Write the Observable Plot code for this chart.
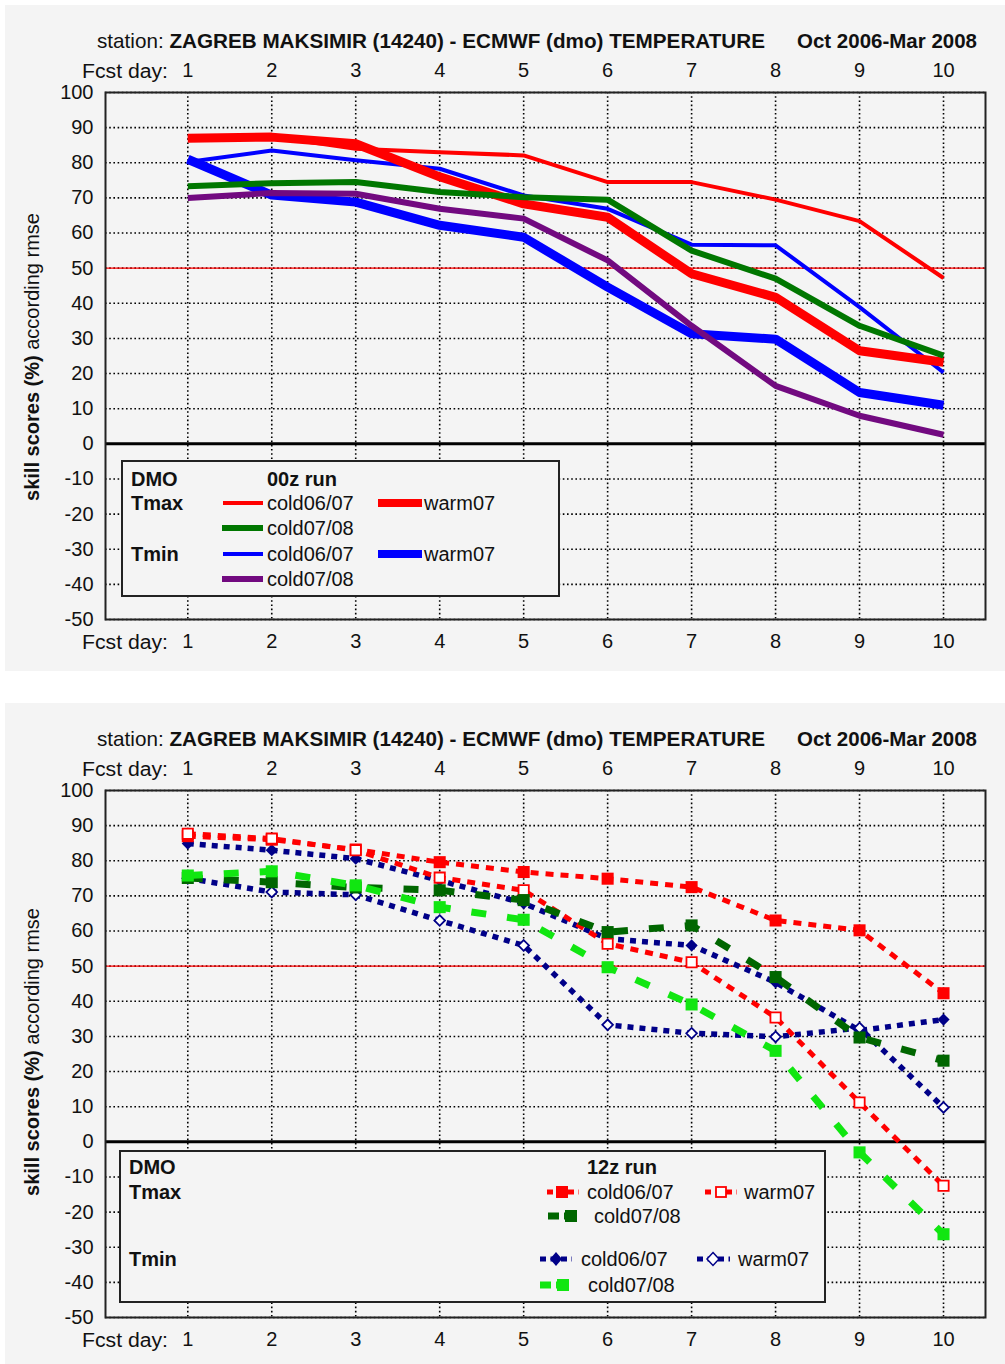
<!DOCTYPE html>
<html>
<head>
<meta charset="utf-8">
<script src="https://cdn.jsdelivr.net/npm/d3@7"></script>
<script src="https://cdn.jsdelivr.net/npm/@observablehq/plot@0.6"></script>
<style>
  body { margin:0; background:#fff; width:1005px; height:1364px; position:relative; overflow:hidden;
         font-family:"Liberation Sans",Arial,sans-serif; color:#111; }
  .panel { position:absolute; left:5px; width:1000px; background:#f4f4f4; }
  .abs { position:absolute; white-space:nowrap; }
  .ylab { font-size:20px; line-height:24px; width:320px; text-align:center; transform:rotate(-90deg); }
  svg text { font-family:"Liberation Sans",Arial,sans-serif; }
</style>
</head>
<body>
<div class="panel" style="top:5px;height:666px"></div>
<div class="panel" style="top:703px;height:661px"></div>
<div id="chart1" class="abs" style="left:0;top:0"></div>
<div id="chart2" class="abs" style="left:0;top:702px"></div>

<svg class="abs" style="left:0;top:0" width="1005" height="672">
  <g fill="#111" font-size="21">
    <text x="97" y="48" textLength="668" lengthAdjust="spacingAndGlyphs">station: <tspan font-weight="bold">ZAGREB MAKSIMIR (14240) - ECMWF (dmo) TEMPERATURE</tspan></text>
    <text x="797" y="48" textLength="180" lengthAdjust="spacingAndGlyphs" font-weight="bold">Oct 2006-Mar 2008</text>
    <text x="82" y="78" textLength="86" lengthAdjust="spacingAndGlyphs" font-size="20">Fcst day:</text>
    <text x="82" y="649" textLength="86" lengthAdjust="spacingAndGlyphs" font-size="20">Fcst day:</text>
  </g>
</svg>
<div class="abs ylab" style="left:-128px;top:345px"><b>skill scores (%)</b> according rmse</div>

<svg class="abs" style="left:0;top:702px" width="1005" height="662">
  <g fill="#111" font-size="21">
    <text x="97" y="44" textLength="668" lengthAdjust="spacingAndGlyphs">station: <tspan font-weight="bold">ZAGREB MAKSIMIR (14240) - ECMWF (dmo) TEMPERATURE</tspan></text>
    <text x="797" y="44" textLength="180" lengthAdjust="spacingAndGlyphs" font-weight="bold">Oct 2006-Mar 2008</text>
    <text x="82" y="74" textLength="86" lengthAdjust="spacingAndGlyphs" font-size="20">Fcst day:</text>
    <text x="82" y="645" textLength="86" lengthAdjust="spacingAndGlyphs" font-size="20">Fcst day:</text>
  </g>
</svg>
<div class="abs ylab" style="left:-128px;top:1040px"><b>skill scores (%)</b> according rmse</div>

<svg class="abs" style="left:121px;top:460px" width="440" height="138">
  <rect x="1" y="1" width="437" height="135" fill="#f4f4f4" stroke="#222" stroke-width="2"/>
  <g font-size="20" fill="#111">
    <text x="10" y="26" font-weight="bold">DMO</text>
    <text x="146" y="26" font-weight="bold">00z run</text>
    <text x="10" y="50" font-weight="bold">Tmax</text>
    <text x="10" y="101" font-weight="bold">Tmin</text>
    <line x1="102" x2="142" y1="43" y2="43" stroke="#ff0000" stroke-width="4"/>
    <text x="146" y="50">cold06/07</text>
    <line x1="257" x2="301" y1="43" y2="43" stroke="#ff0000" stroke-width="8"/>
    <text x="303" y="50">warm07</text>
    <line x1="101" x2="142" y1="68" y2="68" stroke="#007700" stroke-width="6"/>
    <text x="146" y="75">cold07/08</text>
    <line x1="102" x2="142" y1="94" y2="94" stroke="#0000ff" stroke-width="4"/>
    <text x="146" y="101">cold06/07</text>
    <line x1="257" x2="301" y1="94" y2="94" stroke="#0000ff" stroke-width="8"/>
    <text x="303" y="101">warm07</text>
    <line x1="101" x2="142" y1="119" y2="119" stroke="#720a80" stroke-width="6"/>
    <text x="146" y="126">cold07/08</text>
  </g>
</svg>

<svg class="abs" style="left:119px;top:1150px" width="708" height="154">
  <rect x="1" y="1" width="705" height="151" fill="#f4f4f4" stroke="#222" stroke-width="2"/>
  <g font-size="20" fill="#111">
    <text x="10" y="24" font-weight="bold">DMO</text>
    <text x="468" y="24" font-weight="bold">12z run</text>
    <text x="10" y="49" font-weight="bold">Tmax</text>
    <text x="10" y="116" font-weight="bold">Tmin</text>
    <line x1="428" x2="460" y1="42" y2="42" stroke="#ff0000" stroke-width="5" stroke-dasharray="6,4.5"/>
    <rect x="437" y="36" width="12" height="12" fill="#ff0000"/>
    <text x="468" y="49">cold06/07</text>
    <line x1="586" x2="618" y1="42" y2="42" stroke="#ff0000" stroke-width="5" stroke-dasharray="6,4.5"/>
    <rect x="597" y="37" width="10" height="10" fill="#fff" stroke="#ff0000" stroke-width="1.8"/>
    <text x="625" y="49">warm07</text>
    <line x1="429" x2="460" y1="66" y2="66" stroke="#006600" stroke-width="7" stroke-dasharray="11,5"/>
    <rect x="446" y="60" width="12" height="12" fill="#006600"/>
    <text x="475" y="73">cold07/08</text>
    <line x1="421" x2="453" y1="109" y2="109" stroke="#000088" stroke-width="5" stroke-dasharray="6,4.5"/>
    <path d="M437,102 L443,109 L437,116 L431,109 Z" fill="#000088"/>
    <text x="462" y="116">cold06/07</text>
    <line x1="578" x2="611" y1="109" y2="109" stroke="#000088" stroke-width="5" stroke-dasharray="6,4.5"/>
    <path d="M594,102.5 L600,109 L594,115.5 L588,109 Z" fill="#fff" stroke="#000088" stroke-width="1.5"/>
    <text x="619" y="116">warm07</text>
    <line x1="421" x2="453" y1="135" y2="135" stroke="#11e611" stroke-width="7" stroke-dasharray="11,5"/>
    <rect x="438" y="129" width="12" height="12" fill="#11e611"/>
    <text x="469" y="142">cold07/08</text>
  </g>
</svg>

<script>
// ---- data ----
const days = [1, 2, 3, 4, 5, 6, 7, 8, 9, 10];
const yTicks = [-50, -40, -30, -20, -10, 0, 10, 20, 30, 40, 50, 60, 70, 80, 90, 100];

// 00z run
const run00_tmax_cold0607 = [87, 87.5, 84, 83, 82.1, 74.5, 74.5, 69.5, 63.4, 47.2];
const run00_tmax_warm07   = [87, 87.3, 85.4, 76, 68.3, 64.5, 48.4, 41.7, 26.5, 23.2];
const run00_tmax_cold0708 = [73.3, 74.2, 74.5, 71.7, 70.2, 69.5, 55, 47, 33.6, 25.1];
const run00_tmin_cold0607 = [80.2, 83.5, 80.7, 78.3, 70.7, 66.9, 56.7, 56.5, 38.9, 20.3];
const run00_tmin_warm07   = [81, 70.8, 68.8, 62.2, 58.8, 44.6, 31.3, 29.8, 14.6, 11];
const run00_tmin_cold0708 = [70, 71.4, 71.2, 66.9, 64.1, 52.2, 33.6, 16.5, 8, 2.6];

// 12z run
const run12_tmax_cold0607 = [87, 86, 83.2, 79.6, 76.8, 74.9, 72.5, 63, 60.2, 42.3];
const run12_tmax_warm07   = [87.7, 86.3, 83, 75.2, 71.6, 56.4, 51.1, 35.4, 11.2, -12.5];
const run12_tmax_cold0708 = [75.1, 73.9, 72.4, 71.6, 68.8, 59.7, 61.6, 46.9, 29.7, 23.1];
const run12_tmin_cold0607 = [84.9, 83, 80.6, 74.4, 67.9, 57.8, 55.9, 45.4, 31.7, 34.8];
const run12_tmin_warm07   = [75, 71.1, 70.3, 63, 55.9, 33.3, 30.9, 29.9, 32.4, 9.8];
const run12_tmin_cold0708 = [75.8, 77, 73, 66.8, 63.2, 49.7, 39.1, 25.9, -3, -26.3];

const rows = vals => days.map((d, i) => ({day: d, v: vals[i]}));
const FONT = '"Liberation Sans",Arial,sans-serif';
const fmt = d => String(d);

function baseMarks() {
  const dot = {stroke: "#000", strokeOpacity: 1, strokeWidth: 1.6, strokeDasharray: "1.6,2.6"};
  return [
    Plot.gridX(days, dot),
    Plot.gridY(yTicks, dot),
    Plot.ruleY([50], {stroke: "#ff0000", strokeWidth: 1.2}),
    Plot.ruleY([0], {stroke: "#000", strokeWidth: 3}),
    Plot.axisX(days, {anchor: "top", tickSize: 0, tickPadding: 16, label: null, fontSize: 20, tickFormat: fmt}),
    Plot.axisX(days, {anchor: "bottom", tickSize: 0, tickPadding: 14, label: null, fontSize: 20, tickFormat: fmt}),
    Plot.axisY(yTicks, {anchor: "left", tickSize: 0, tickPadding: 12, label: null, fontSize: 20, tickFormat: fmt})
  ];
}

function solid(vals, color, w) {
  return Plot.line(rows(vals), {x: "day", y: "v", stroke: color, strokeWidth: w,
    strokeLinejoin: "round", strokeLinecap: "butt"});
}

const chart1 = Plot.plot({
  width: 1005, height: 672,
  marginLeft: 105, marginRight: 20, marginTop: 92, marginBottom: 53,
  style: {background: "transparent", fontFamily: FONT, fontSize: "20px", color: "#111"},
  x: {domain: [0.02, 10.5]},
  y: {domain: [-50, 100]},
  marks: [
    ...baseMarks(),
    solid(run00_tmin_cold0607, "#0000ff", 4),
    solid(run00_tmin_warm07, "#0000ff", 9),
    solid(run00_tmax_warm07, "#ff0000", 9),
    solid(run00_tmax_cold0607, "#ff0000", 4),
    solid(run00_tmax_cold0708, "#007700", 6),
    solid(run00_tmin_cold0708, "#720a80", 6),
    Plot.frame({stroke: "#222", strokeWidth: 2})
  ]
});
document.getElementById("chart1").appendChild(chart1);

function dashed(vals, color, w, dash) {
  return Plot.line(rows(vals), {x: "day", y: "v", stroke: color, strokeWidth: w,
    strokeDasharray: dash, strokeLinecap: "butt", strokeLinejoin: "miter"});
}
function markers(vals, symbol, r, fill, stroke) {
  return Plot.dot(rows(vals), {x: "day", y: "v", symbol, r, fill,
    stroke: stroke || "none", strokeWidth: stroke ? 1.8 : 0});
}

const chart2 = Plot.plot({
  width: 1005, height: 662,
  marginLeft: 105, marginRight: 20, marginTop: 88, marginBottom: 47,
  style: {background: "transparent", fontFamily: FONT, fontSize: "20px", color: "#111"},
  x: {domain: [0.02, 10.5]},
  y: {domain: [-50, 100]},
  marks: [
    ...baseMarks(),
    dashed(run12_tmin_cold0607, "#000088", 5.5, "6,6"),
    markers(run12_tmin_cold0607, "diamond2", 5.5, "#000088"),
    dashed(run12_tmin_warm07, "#000088", 5.5, "6,6"),
    markers(run12_tmin_warm07, "diamond2", 4.8, "#fff", "#000088"),
    dashed(run12_tmax_cold0607, "#ff0000", 5, "8,7"),
    markers(run12_tmax_cold0607, "square", 6.8, "#ff0000"),
    dashed(run12_tmax_warm07, "#ff0000", 5, "8,7"),
    markers(run12_tmax_warm07, "square", 5.8, "#fff", "#ff0000"),
    dashed(run12_tmax_cold0708, "#006600", 7, "15,21"),
    markers(run12_tmax_cold0708, "square", 6.8, "#006600"),
    dashed(run12_tmin_cold0708, "#11e611", 7, "15,21"),
    markers(run12_tmin_cold0708, "square", 6.8, "#11e611"),
    Plot.frame({stroke: "#222", strokeWidth: 2})
  ]
});
document.getElementById("chart2").appendChild(chart2);
</script>
</body>
</html>
